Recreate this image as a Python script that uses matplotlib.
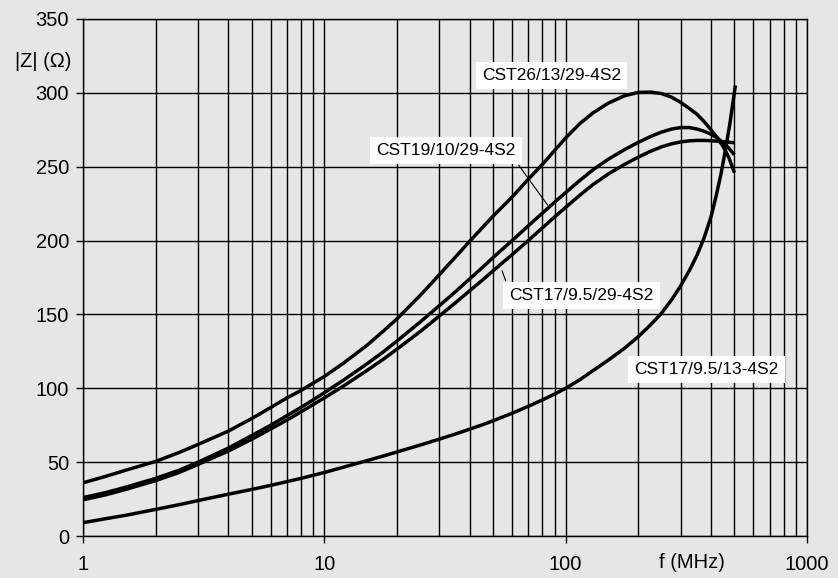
import matplotlib.pyplot as plt
import numpy as np

plt.rcParams['font.family'] = ['Liberation Sans', 'DejaVu Sans']

# frequency (MHz) and impedance |Z| (Ohm)
freq = [1, 1.25, 1.5, 2, 2.5, 3, 4, 5, 6, 7, 8, 10, 12, 15, 17.5, 20, 25, 30, 35, 40, 45, 50,
        60, 70, 80, 90, 100, 115, 130, 150, 175, 200, 225, 250, 275, 300, 325, 350, 375, 400,
        425, 450, 475, 500]
z_cst26 = [36, 40.5, 44.5, 50.5, 56.5, 62, 71, 79.5, 87, 93.5, 98.5, 108, 117, 129, 138.5, 147,
           163, 177, 189, 199.5, 208.5, 216.5, 229.5, 241.5, 251.5, 261, 269.5, 279.5, 286.5, 293,
           298, 300.3, 300.5, 299.5, 297, 293.5, 289.5, 285.5, 280.5, 275, 269.5, 263.5, 256, 246]
z_cst19 = [26, 29.5, 33, 39, 44.5, 50, 59.5, 68, 75, 81.5, 87, 97, 105.5, 116.5, 124.5, 132,
           145, 156, 165.5, 174, 181.5, 188.5, 200, 210, 218.5, 226, 232.5, 241, 248, 255,
           261.5, 266.5, 270.5, 273.5, 275.5, 276.5, 276.5, 275.5, 274, 272, 269.5, 266, 262.5, 258]
z_cst17_29 = [24.5, 28, 31.5, 37.5, 43, 48.5, 57.5, 65.5, 72.5, 78.5, 84, 93.5, 101.5, 112, 119.5, 126.5,
              138.5, 149, 158, 166, 173, 179.5, 190.5, 200, 208.5, 216, 222.5, 231, 238, 245,
              251.5, 256.5, 260.5, 263.5, 265.5, 266.8, 267.5, 267.8, 267.8, 267.6, 267.3, 267, 266.6, 266.2]

freq_13 = [1, 1.25, 1.5, 2, 2.5, 3, 4, 5, 6, 7, 8, 10, 12, 15, 17.5, 20, 25, 30, 35, 40, 45, 50,
           60, 70, 80, 90, 100, 115, 130, 150, 175, 200, 225, 250, 275, 300, 325, 350, 375, 400,
           420, 440, 460, 480, 505]
z_cst17_13 = [9, 11.8, 14, 18, 21.2, 24, 28.3, 31.5, 34.3, 36.8, 39, 43, 46.6, 51, 54.1, 56.9,
              61.6, 65.6, 69.1, 72.3, 75.2, 78, 83.1, 87.8, 92.1, 96.1, 100, 106, 112, 119,
              127, 135, 143, 151, 160, 169.5, 179.5, 190, 202, 216, 230, 245, 262, 280, 305]

x_ticks = [1, 10, 100, 1000]
x_labels = ['1', '10', '100', '1000']
y_ticks = [0, 50, 100, 150, 200, 250, 300, 350]

bg = '#e6e6e6'
fig = plt.figure(figsize=(8.38, 5.78), dpi=100, facecolor=bg)
ax = fig.add_axes([83 / 838, 42 / 578, 724 / 838, 517 / 578])
ax.set_facecolor(bg)

ax.set_xscale('log')
ax.set_xlim(1, 1000)
ax.set_ylim(0, 350)

lw = 2.5
for z in (z_cst26, z_cst19, z_cst17_29):
    ax.plot(freq, z, color='black', lw=lw, solid_capstyle='butt', solid_joinstyle='round', zorder=3)
ax.plot(freq_13, z_cst17_13, color='black', lw=lw, solid_capstyle='butt', solid_joinstyle='round', zorder=3)

ax.set_xticks(x_ticks)
ax.set_xticklabels(x_labels)
ax.set_xticks([m * 10 ** d for d in range(3) for m in range(2, 10)], minor=True)
ax.xaxis.set_minor_formatter(plt.NullFormatter())
ax.set_yticks(y_ticks)
ax.grid(True, which='both', axis='x', color='black', lw=1.0)
ax.grid(True, which='major', axis='y', color='black', lw=1.0)
ax.tick_params(axis='x', which='major', length=5, width=1, pad=9, labelsize=14.5, direction='out')
ax.tick_params(axis='x', which='minor', length=0)
ax.tick_params(axis='y', length=5, width=1, pad=5, labelsize=14.5, direction='out')
for s in ax.spines.values():
    s.set_linewidth(1.0)

box = dict(boxstyle='square,pad=0.35', facecolor='white', edgecolor='none')
ax.text(87.5, 312, 'CST26/13/29-4S2', fontsize=12.5, ha='center', va='center', bbox=box, zorder=4)
ax.text(32, 261, 'CST19/10/29-4S2', fontsize=12.5, ha='center', va='center', bbox=box, zorder=4)
ax.text(116.5, 163, 'CST17/9.5/29-4S2', fontsize=12.5, ha='center', va='center', bbox=box, zorder=4)
ax.text(383, 113, 'CST17/9.5/13-4S2', fontsize=12.5, ha='center', va='center', bbox=box, zorder=4)

# leader lines
ax.annotate('', xy=(84.2, 224), xytext=(63.9, 251),
            arrowprops=dict(arrowstyle='-', lw=0.8, color='black', shrinkA=0, shrinkB=0), zorder=4)
ax.annotate('', xy=(54.5, 179.6), xytext=(56.4, 172.9),
            arrowprops=dict(arrowstyle='-', lw=0.8, color='black', shrinkA=0, shrinkB=0), zorder=4)

fig.text(71 / 838, 1 - 61.7 / 578, '|Z| (Ω)', fontsize=14.5, ha='right', va='center')
fig.text(691.7 / 838, 1 - 563 / 578, 'f (MHz)', fontsize=14.5, ha='center', va='center')

fig.savefig('out.png', dpi=100, facecolor=bg)
